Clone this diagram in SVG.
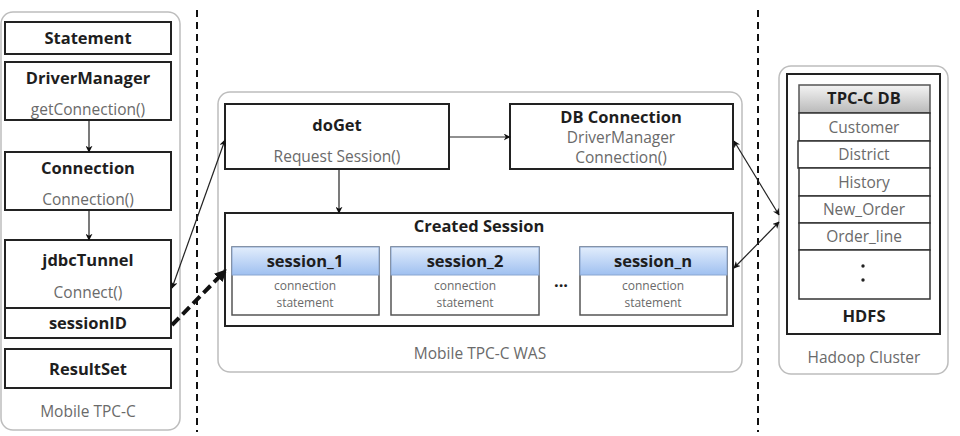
<svg xmlns="http://www.w3.org/2000/svg" width="960" height="436" viewBox="0 0 960 436">
<style>
.panel{fill:#fff;stroke:#bdbdbd;stroke-width:1.5}
.box{fill:#fff;stroke:#222;stroke-width:2}
.sbox{fill:#fff;stroke:#555;stroke-width:1.5}
.row{fill:#fff;stroke:#333;stroke-width:1.5}
.b{font-family:"Open Sans","Noto Sans",sans-serif;font-weight:bold;fill:#1e1e1e;text-anchor:middle;font-size:16.5px}
.g{font-family:"Open Sans","Noto Sans",sans-serif;fill:#6a6a6a;text-anchor:middle;font-size:15.5px}
.s{font-family:"Open Sans","Noto Sans",sans-serif;fill:#6a6a6a;text-anchor:middle;font-size:12px}
.sep{stroke:#111;stroke-width:2;stroke-dasharray:7 5}
.con{stroke:#222;stroke-width:1.2;fill:none}
</style>
<defs>
<marker id="ah" viewBox="0 0 10 10" refX="9" refY="5" markerWidth="7" markerHeight="7" orient="auto-start-reverse" markerUnits="userSpaceOnUse"><path d="M0,0 L10,5 L0,10 L3,5 z" fill="#111"/></marker>
<marker id="ahb" viewBox="0 0 10 10" refX="8" refY="5" markerWidth="12" markerHeight="12" orient="auto" markerUnits="userSpaceOnUse"><path d="M0,0 L10,5 L0,10 z" fill="#111"/></marker>
<linearGradient id="blue" x1="0" y1="0" x2="0" y2="1"><stop offset="0" stop-color="#e2edfc"/><stop offset="1" stop-color="#9fc0f0"/></linearGradient>
<linearGradient id="gray" x1="0" y1="0" x2="0" y2="1"><stop offset="0" stop-color="#f4f4f4"/><stop offset="1" stop-color="#b9b9b9"/></linearGradient>
</defs>

<line class="sep" x1="197" y1="10" x2="197" y2="432"/>
<line class="sep" x1="758" y1="10" x2="758" y2="432"/>

<g id="mobile-tpcc">
<rect class="panel" x="1" y="12" width="179" height="418" rx="12"/>
<text class="g" x="88" y="417">Mobile TPC-C</text>
</g>
<g id="statement"><rect class="box" x="5" y="22" width="166" height="32"/><text class="b" x="88" y="44">Statement</text></g>
<g id="drivermanager"><rect class="box" x="5" y="62" width="166" height="58"/><text class="b" x="88" y="84">DriverManager</text><text class="g" x="88" y="115">getConnection()</text></g>
<g id="connection"><rect class="box" x="5" y="152" width="166" height="58"/><text class="b" x="88" y="174">Connection</text><text class="g" x="88" y="205">Connection()</text></g>
<g id="jdbctunnel"><rect class="box" x="5" y="240" width="166" height="68"/><text class="b" x="88" y="266">jdbcTunnel</text><text class="g" x="88" y="298">Connect()</text></g>
<g id="sessionid"><rect class="box" x="5" y="308" width="166" height="30"/><text class="b" x="88" y="329">sessionID</text></g>
<g id="resultset"><rect class="box" x="5" y="349" width="166" height="39"/><text class="b" x="88" y="375">ResultSet</text></g>

<g id="was">
<rect class="panel" x="218" y="92" width="524" height="280" rx="12"/>
<text class="g" x="480" y="359">Mobile TPC-C WAS</text>
</g>
<g id="doget"><rect class="box" x="225" y="104" width="224" height="65"/><text class="b" x="337" y="131">doGet</text><text class="g" x="337" y="162">Request Session()</text></g>
<g id="dbconnection"><rect class="box" x="510" y="104" width="223" height="65"/><text class="b" x="621" y="123">DB Connection</text><text class="g" x="621" y="143">DriverManager</text><text class="g" x="621" y="163">Connection()</text></g>
<g id="createdsession"><rect class="box" x="225" y="213" width="508" height="113"/><text class="b" x="479" y="232">Created Session</text></g>
<g id="session1"><rect class="sbox" x="232" y="247" width="147" height="68"/><rect x="232" y="247" width="147" height="28" fill="url(#blue)" stroke="#8aa6d0" stroke-width="1"/><text class="b" x="305" y="267">session_1</text><text class="s" x="305" y="290">connection</text><text class="s" x="305" y="307">statement</text></g>
<g id="session2"><rect class="sbox" x="391" y="247" width="148" height="68"/><rect x="391" y="247" width="148" height="28" fill="url(#blue)" stroke="#8aa6d0" stroke-width="1"/><text class="b" x="465" y="267">session_2</text><text class="s" x="465" y="290">connection</text><text class="s" x="465" y="307">statement</text></g>
<text class="b" x="561" y="287" fill="#444">...</text>
<g id="sessionn"><rect class="sbox" x="580" y="247" width="147" height="68"/><rect x="580" y="247" width="147" height="28" fill="url(#blue)" stroke="#8aa6d0" stroke-width="1"/><text class="b" x="653" y="267">session_n</text><text class="s" x="653" y="290">connection</text><text class="s" x="653" y="307">statement</text></g>

<g id="hadoop">
<rect class="panel" x="779" y="66" width="169" height="308" rx="12"/>
<text class="g" x="864" y="363">Hadoop Cluster</text>
</g>
<g id="hdfs">
<rect class="box" x="787" y="74" width="153" height="260"/>
<rect x="799" y="85" width="131" height="28" fill="url(#gray)" stroke="#555" stroke-width="1.5"/>
<text class="b" x="864" y="104">TPC-C DB</text>
<rect class="row" x="799" y="113" width="131" height="28"/><text class="g" x="864" y="133" font-size="15">Customer</text>
<rect class="row" x="798" y="141" width="132" height="27" stroke-width="2"/><text class="g" x="864" y="160">District</text>
<rect class="row" x="799" y="168" width="131" height="28"/><text class="g" x="864" y="188">History</text>
<rect class="row" x="799" y="196" width="131" height="27"/><text class="g" x="864" y="215">New_Order</text>
<rect class="row" x="799" y="223" width="131" height="27"/><text class="g" x="864" y="242">Order_line</text>
<rect class="row" x="799" y="250" width="131" height="49"/>
<circle cx="863" cy="266" r="1.7" fill="#222"/><circle cx="863" cy="280" r="1.7" fill="#222"/>
<text class="b" x="864" y="322">HDFS</text>
</g>

<g id="connectors">
<line class="con" x1="89" y1="120" x2="89" y2="152" marker-end="url(#ah)"/>
<line class="con" x1="89" y1="210" x2="89" y2="240" marker-end="url(#ah)"/>
<line class="con" x1="172" y1="288" x2="225" y2="140" marker-start="url(#ah)" marker-end="url(#ah)"/>
<line x1="172" y1="325" x2="225" y2="271" stroke="#111" stroke-width="4" stroke-dasharray="10 5" marker-end="url(#ahb)"/>
<line class="con" x1="449" y1="137" x2="510" y2="137" marker-end="url(#ah)"/>
<line class="con" x1="339" y1="169" x2="339" y2="213" marker-end="url(#ah)"/>
<line class="con" x1="734" y1="141" x2="779" y2="215" marker-start="url(#ah)" marker-end="url(#ah)"/>
<line class="con" x1="734" y1="268" x2="779" y2="222" marker-start="url(#ah)" marker-end="url(#ah)"/>
</g>
</svg>
